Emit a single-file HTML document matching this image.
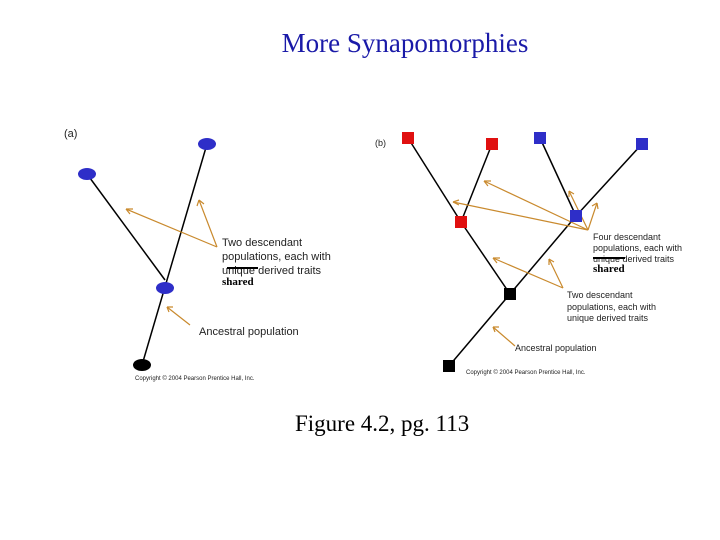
<!DOCTYPE html>
<html><head><style>
body{margin:0;width:720px;height:540px;background:#fff;position:relative;overflow:hidden}
.t{position:absolute;white-space:nowrap}
</style></head><body>
<div class="t" style="left:0;width:810px;top:28px;text-align:center;font:27px 'Liberation Serif',serif;color:#1a1aa8">More Synapomorphies</div>
<div class="t" style="left:295px;top:411px;font:23px 'Liberation Serif',serif;color:#000">Figure 4.2, pg. 113</div>
<svg width="720" height="540" style="position:absolute;left:0;top:0" font-family="Liberation Sans, sans-serif">
<g stroke="#000" stroke-width="1.5">
<line x1="142" y1="365" x2="207" y2="144"/><line x1="87" y1="174" x2="165" y2="280"/>
<line x1="408" y1="138" x2="461" y2="222"/><line x1="492" y1="144" x2="461" y2="222"/>
<line x1="540" y1="138" x2="576" y2="216"/><line x1="642" y1="144" x2="576" y2="216"/>
<line x1="461" y1="222" x2="510" y2="294"/><line x1="576" y1="216" x2="510" y2="294"/>
<line x1="510" y1="294" x2="449" y2="366"/>
</g>
<g stroke="#c98a2e" stroke-width="1.2" fill="none">
<path d="M217,247 L126,209 M217,247 L199,200 M190,325 L167,307"/>
<path d="M126,209 l7,0 M126,209 l4,5 M199,200 l-2,6 M199,200 l5,4 M167,307 l6,0 M167,307 l2,5"/>
<path d="M588,230 L484,181 M588,230 L453,202 M588,230 L569,191 M588,230 L597,203 M563,288 L493,258 M563,288 L549,259 M515,346 L493,327"/>
<path d="M484,181 l7,0 M484,181 l4,5 M453,202 l6,-2 M453,202 l6,3 M569,191 l0,6 M569,191 l5,3 M597,203 l-5,3 M597,203 l1,6 M493,258 l7,0 M493,258 l4,5 M549,259 l0,6 M549,259 l5,3 M493,327 l6,0 M493,327 l2,5"/>
</g>
<g fill="#2e2ec8">
<ellipse cx="207" cy="144" rx="9" ry="6"/><ellipse cx="87" cy="174" rx="9" ry="6"/><ellipse cx="165" cy="288" rx="9" ry="6"/>
<rect x="534" y="132" width="12" height="12"/><rect x="636" y="138" width="12" height="12"/><rect x="570" y="210" width="12" height="12"/>
</g>
<ellipse cx="142" cy="365" rx="9" ry="6" fill="#000"/>
<g fill="#e01010"><rect x="402" y="132" width="12" height="12"/><rect x="486" y="138" width="12" height="12"/><rect x="455" y="216" width="12" height="12"/></g>
<g fill="#000"><rect x="504" y="288" width="12" height="12"/><rect x="443" y="360" width="12" height="12"/></g>
<g font-size="11" fill="#222">
<text x="64" y="137">(a)</text>
<text x="222" y="246">Two descendant</text><text x="222" y="260">populations, each with</text><text x="222" y="274">unique derived traits</text>
<text x="199" y="335">Ancestral population</text>
<text x="375" y="146" font-size="9">(b)</text>
<text font-size="9" x="593" y="240">Four descendant</text><text font-size="9" x="593" y="251">populations, each with</text><text font-size="9" x="593" y="262">unique derived traits</text>
<text font-size="9" x="567" y="298">Two descendant</text><text font-size="9" x="567" y="310">populations, each with</text><text font-size="9" x="567" y="321">unique derived traits</text>
<text font-size="9" x="515" y="351">Ancestral population</text>
<text font-size="6" x="135" y="380">Copyright © 2004 Pearson Prentice Hall, Inc.</text>
<text font-size="6" x="466" y="374">Copyright © 2004 Pearson Prentice Hall, Inc.</text>
</g>
<line x1="227" y1="268" x2="258" y2="268" stroke="#000" stroke-width="2"/>
<line x1="593" y1="258" x2="625" y2="258" stroke="#000" stroke-width="2"/>
<g font-family="Liberation Serif, serif" font-weight="bold" font-size="11" fill="#000">
<text x="222" y="285">shared</text><text x="593" y="272">shared</text></g>
</svg>
</body></html>
